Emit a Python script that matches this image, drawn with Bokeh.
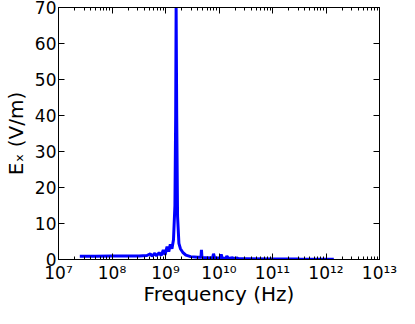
from bokeh.plotting import figure
from bokeh.models import Range1d, LogAxis, LinearAxis, FixedTicker, CustomJSTickFormatter
from bokeh.embed import file_html
from bokeh.resources import INLINE

# Frequency (Hz) and E_x (V/m)
freq_hz = [2.5e7, 5.0e7, 1.0e8, 2.0e8, 3.2e8, 4.5e8, 5.2e8, 5.6e8, 6.3e8, 6.8e8,
           7.6e8, 8.3e8, 9.1e8, 9.8e8, 1.07e9, 1.15e9, 1.23e9, 1.32e9, 1.41e9, 1.5e9,
           1.55e9, 1.58e9, 1.62e9, 1.68e9, 1.78e9, 1.9e9, 2.1e9, 2.4e9, 2.95e9, 4.0e9,
           4.6e9, 4.7e9, 4.8e9, 7.6e9, 7.9e9, 8.3e9, 1.05e10, 1.1e10, 1.15e10, 1.35e10,
           1.4e10, 1.48e10, 1.8e10, 1.86e10, 2.2e10, 2.35e10, 3.2e10, 1.0e11, 3.2e11,
           1.0e12, 1.4e12]
ex_vm = [0.9, 0.9, 0.95, 1.0, 1.0, 1.1, 1.6, 0.9, 1.7, 1.0,
         1.9, 1.1, 2.6, 1.3, 3.6, 2.2, 4.2, 3.0, 5.5, 15,
         40, 70, 40, 12, 4.5, 3.0, 2.0, 1.2, 0.8, 0.6,
         0.6, 2.7, 0.55, 0.45, 1.6, 0.4, 0.4, 1.4, 0.35, 0.35,
         1.0, 0.3, 0.5, 0.25, 0.4, 0.2, 0.2, 0.15, 0.12,
         0.1, 0.1]

x_major = [1e7, 1e8, 1e9, 1e10, 1e11, 1e12, 1e13]
y_major = [0, 10, 20, 30, 40, 50, 60, 70]
x_minor = [m * d for d in x_major[:-1] for m in range(2, 10)]

p = figure(width=399, height=308, x_axis_type="log",
           x_range=Range1d(1e7, 1e13), y_range=Range1d(0, 70),
           output_backend="svg", toolbar_location=None,
           min_border_left=49, min_border_right=20, min_border_top=7, min_border_bottom=46)
p.grid.visible = False
p.outline_line_color = "black"
p.outline_line_width = 1

p.line(freq_hz, ex_vm, line_color="#0000ff", line_width=3)

fmt = CustomJSTickFormatter(code="""
const sup = {'0':'\u2070','1':'\u00b9','2':'\u00b2','3':'\u00b3','4':'\u2074','5':'\u2075','6':'\u2076','7':'\u2077','8':'\u2078','9':'\u2079'};
const e = String(Math.round(Math.log10(tick)));
return '10' + e.split('').map(c => sup[c]).join('');
""")

xt = FixedTicker(ticks=x_major, minor_ticks=x_minor)
yt = FixedTicker(ticks=y_major)

def style(ax):
    ax.axis_line_color = "black"
    ax.major_tick_in = 6
    ax.major_tick_out = 0
    ax.minor_tick_in = 3
    ax.minor_tick_out = 0
    ax.major_tick_line_color = "black"
    ax.minor_tick_line_color = "black"
    ax.major_label_text_font = "DejaVu Sans"
    ax.major_label_text_font_size = "17px"
    ax.major_label_text_color = "black"
    ax.axis_label_text_font = "DejaVu Sans"
    ax.axis_label_text_font_size = "20px"
    ax.axis_label_text_font_style = "normal"
    ax.axis_label_text_color = "black"

xa = p.xaxis[0]
xa.ticker = xt
xa.formatter = fmt
xa.axis_label = "Frequency (Hz)"
xa.major_label_standoff = 3
xa.axis_label_standoff = -4
style(xa)

ya = p.yaxis[0]
ya.ticker = yt
ya.axis_label = "E\u2093 (V/m)"
ya.major_label_standoff = 2
ya.axis_label_standoff = 4
style(ya)

top = LogAxis(ticker=xt)
right = LinearAxis(ticker=yt)
style(top)
top.major_label_text_font_size = "1px"
top.major_label_text_alpha = 0
top.major_label_standoff = 0
style(right)
right.major_label_text_font_size = "1px"
right.major_label_text_alpha = 0
right.major_label_standoff = 0
p.add_layout(top, "above")
p.add_layout(right, "right")

open("out.html", "w").write(file_html(p, INLINE))
